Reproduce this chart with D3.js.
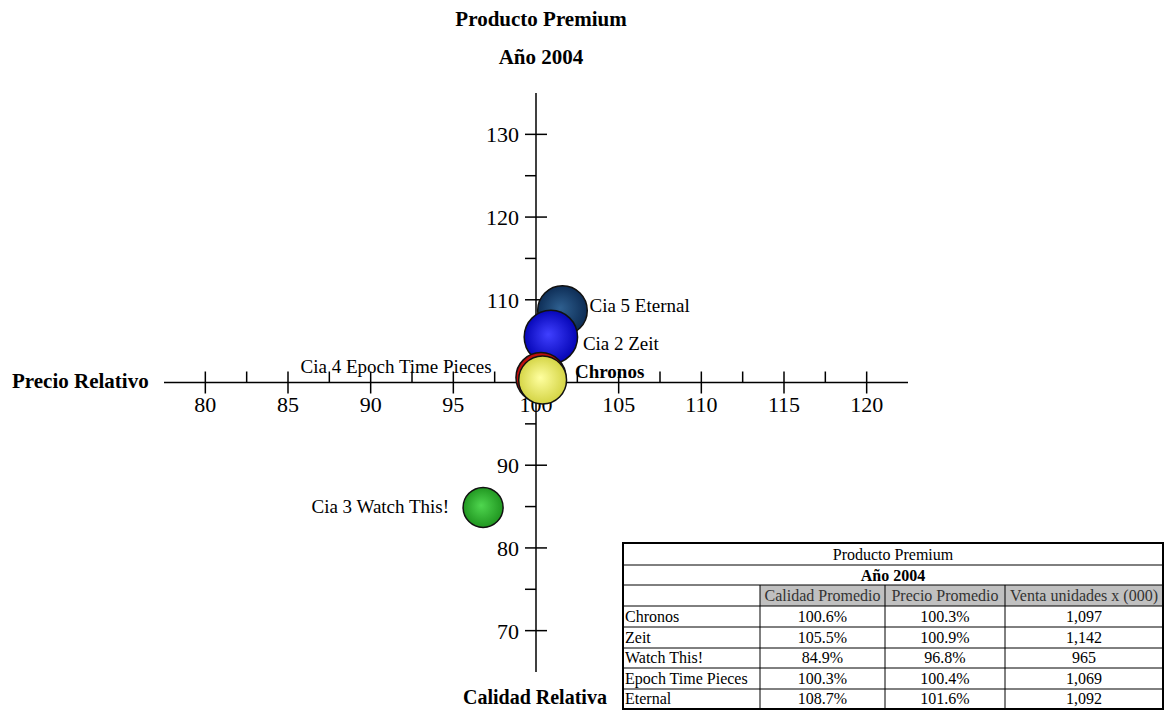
<!DOCTYPE html>
<html>
<head>
<meta charset="utf-8">
<script src="https://cdn.jsdelivr.net/npm/d3@7"></script>
<style>
  body { margin: 0; background: #fff; }
  text { font-family: "Liberation Serif", "Times New Roman", serif; }
</style>
</head>
<body>
<div id="chart-container"></div>
<script>
// data
const companies = ["Chronos", "Zeit", "Watch This!", "Epoch Time Pieces", "Eternal"];
const bubbleLabels = ["Chronos", "Cia 2 Zeit", "Cia 3 Watch This!", "Cia 4 Epoch Time Pieces", "Cia 5 Eternal"];
const calidad = [100.6, 105.5, 84.9, 100.3, 108.7];
const precio = [100.3, 100.9, 96.8, 100.4, 101.6];
const ventas = [1097, 1142, 965, 1069, 1092];
const xTicks = [80, 85, 90, 95, 100, 105, 110, 115, 120];
const xMinorTicks = [82.5, 87.5, 92.5, 97.5, 102.5, 107.5, 112.5, 117.5];
const yTicks = [70, 80, 90, 110, 120, 130];
const yMinorTicks = [75, 85, 95, 105, 115, 125];
const chartTitle = "Producto Premium";
const chartSubtitle = "Año 2004";
const tableHeaders = ["", "Calidad Promedio", "Precio Promedio", "Venta unidades x (000)"];

const width = 1164, height = 710;

const svg = d3.select("#chart-container")
  .append("svg")
  .attr("width", width)
  .attr("height", height);

// scales
const x = d3.scaleLinear().domain([77.5, 122.5]).range([164, 908]);
const y = d3.scaleLinear().domain([65, 135]).range([672, 93]);
const r = d3.scaleLinear().domain(d3.extent(ventas)).range([20, 26.7]);

const x0 = x(100), y0 = y(100);

// titles
svg.append("text").attr("x", 541).attr("y", 26).attr("text-anchor", "middle")
  .style("font-size", "21px").style("font-weight", "bold").text(chartTitle);
svg.append("text").attr("x", 541).attr("y", 64).attr("text-anchor", "middle")
  .style("font-size", "21px").style("font-weight", "bold").text(chartSubtitle);

// x axis (precio)
const xAxis = svg.append("g").attr("transform", `translate(0,${y0})`);
xAxis.append("line").attr("x1", x.range()[0]).attr("x2", x.range()[1])
  .attr("stroke", "#000").attr("stroke-width", 1.5);
xAxis.selectAll(".major").data(xTicks).enter().append("line")
  .attr("x1", d => x(d)).attr("x2", d => x(d)).attr("y1", -11).attr("y2", 11)
  .attr("stroke", "#000").attr("stroke-width", 1.5);
xAxis.selectAll(".minor").data(xMinorTicks).enter().append("line")
  .attr("x1", d => x(d)).attr("x2", d => x(d)).attr("y1", -11).attr("y2", 0)
  .attr("stroke", "#000").attr("stroke-width", 1.5);
xAxis.selectAll(".lbl").data(xTicks).enter().append("text")
  .attr("x", d => x(d)).attr("y", 29).attr("text-anchor", "middle")
  .style("font-size", "22px").text(d => d);

// y axis (calidad)
const yAxis = svg.append("g").attr("transform", `translate(${x0},0)`);
yAxis.append("line").attr("y1", y.range()[0]).attr("y2", y.range()[1])
  .attr("stroke", "#000").attr("stroke-width", 1.5);
yAxis.selectAll(".major").data(yTicks).enter().append("line")
  .attr("y1", d => y(d)).attr("y2", d => y(d)).attr("x1", -11).attr("x2", 11)
  .attr("stroke", "#000").attr("stroke-width", 1.5);
yAxis.selectAll(".minor").data(yMinorTicks).enter().append("line")
  .attr("y1", d => y(d)).attr("y2", d => y(d)).attr("x1", -11).attr("x2", 0)
  .attr("stroke", "#000").attr("stroke-width", 1.5);
yAxis.selectAll(".lbl").data(yTicks).enter().append("text")
  .attr("x", -17).attr("y", d => y(d) + 8).attr("text-anchor", "end")
  .style("font-size", "22px").text(d => d);

// axis titles
svg.append("text").attr("x", 12).attr("y", 388)
  .style("font-size", "21px").style("font-weight", "bold").text("Precio Relativo");
svg.append("text").attr("x", 463).attr("y", 704)
  .style("font-size", "20px").style("font-weight", "bold").text("Calidad Relativa");

// bubble gradients
const colors = [
  ["#ff5a4a", "#b00000"],  // Chronos
  ["#4040ff", "#0000b0"],  // Zeit
  ["#4fd64f", "#1c901c"],  // Watch This!
  ["#ffffa0", "#d0d03c"],  // Epoch
  ["#2f6090", "#0a2850"],  // Eternal
];
const defs = svg.append("defs");
colors.forEach((c, i) => {
  const g = defs.append("radialGradient").attr("id", "grad" + i)
    .attr("cx", "50%").attr("cy", "50%").attr("r", "55%")
    .attr("fx", "45%").attr("fy", "45%");
  g.append("stop").attr("offset", "0%").attr("stop-color", c[0]);
  g.append("stop").attr("offset", "100%").attr("stop-color", c[1]);
});

let data = companies.map((name, i) => ({
  i: i,
  name: name,
  label: bubbleLabels[i],
  calidad: calidad[i],
  precio: precio[i],
  ventas: ventas[i],
}));
// higher bubbles drawn first
data = data.slice().sort((a, b) => b.calidad - a.calidad);

svg.append("g").selectAll("circle").data(data).enter().append("circle")
  .attr("cx", d => x(d.precio))
  .attr("cy", d => y(d.calidad))
  .attr("r", d => r(d.ventas))
  .attr("fill", d => `url(#grad${d.i})`)
  .attr("stroke", "#111")
  .attr("stroke-width", 1.5);

// label placement (anchor, dx, dy, bold)
const labelPos = {
  "Chronos": ["start", 34, 0, true],
  "Zeit": ["start", 32, 13, false],
  "Watch This!": ["end", -34, 6, false],
  "Epoch Time Pieces": ["end", -51, -7, false],
  "Eternal": ["start", 27, 1, false],
};
svg.append("g").selectAll("text").data(data).enter().append("text")
  .attr("x", d => x(d.precio) + labelPos[d.name][1])
  .attr("y", d => y(d.calidad) + labelPos[d.name][2])
  .attr("text-anchor", d => labelPos[d.name][0])
  .style("font-size", "19px")
  .style("font-weight", d => labelPos[d.name][3] ? "bold" : "normal")
  .text(d => d.label);

// table
const colX = [623, 760, 885, 1005, 1163];
const rowY = [543, 565, 585, 606, 627, 648, 668, 689, 709];
const tbl = svg.append("g");

// header gray cells
tbl.selectAll(".hdr").data(tableHeaders.slice(1)).enter().append("rect")
  .attr("x", (d, i) => colX[i + 1]).attr("y", rowY[2])
  .attr("width", (d, i) => colX[i + 2] - colX[i + 1])
  .attr("height", rowY[3] - rowY[2])
  .attr("fill", "#c0c0c0");

// horizontal lines
tbl.selectAll(".hl").data(rowY).enter().append("line")
  .attr("x1", colX[0]).attr("x2", colX[4])
  .attr("y1", d => d).attr("y2", d => d)
  .attr("stroke", "#000").attr("stroke-width", 1);
// vertical lines
tbl.selectAll(".vl").data(colX).enter().append("line")
  .attr("x1", d => d).attr("x2", d => d)
  .attr("y1", (d, i) => (i === 0 || i === 4) ? rowY[0] : rowY[2])
  .attr("y2", rowY[8])
  .attr("stroke", "#000").attr("stroke-width", 1);
tbl.append("rect").attr("x", colX[0]).attr("y", rowY[0])
  .attr("width", colX[4] - colX[0]).attr("height", rowY[8] - rowY[0])
  .attr("fill", "none").attr("stroke", "#000").attr("stroke-width", 2);

const midX = (colX[0] + colX[4]) / 2;
tbl.append("text").attr("x", midX).attr("y", rowY[1] - 5).attr("text-anchor", "middle")
  .style("font-size", "16px").text(chartTitle);
tbl.append("text").attr("x", midX).attr("y", rowY[2] - 4).attr("text-anchor", "middle")
  .style("font-size", "16px").style("font-weight", "bold").text(chartSubtitle);
tbl.selectAll(".hdrtxt").data(tableHeaders.slice(1)).enter().append("text")
  .attr("x", (d, i) => (colX[i + 1] + colX[i + 2]) / 2)
  .attr("y", rowY[3] - 5).attr("text-anchor", "middle")
  .style("font-size", "16px").attr("fill", "#333").text(d => d);

const fmtPct = v => v.toFixed(1) + "%";
const fmtNum = d3.format(",");
companies.forEach((name, i) => {
  const ty = rowY[i + 4] - 5;
  const cells = [name, fmtPct(calidad[i]), fmtPct(precio[i]), fmtNum(ventas[i])];
  tbl.selectAll(".row" + i).data(cells).enter().append("text")
    .attr("x", (d, j) => j === 0 ? colX[0] + 2 : (colX[j] + colX[j + 1]) / 2)
    .attr("y", ty)
    .attr("text-anchor", (d, j) => j === 0 ? "start" : "middle")
    .style("font-size", "16px")
    .text(d => d);
});
</script>
</body>
</html>
